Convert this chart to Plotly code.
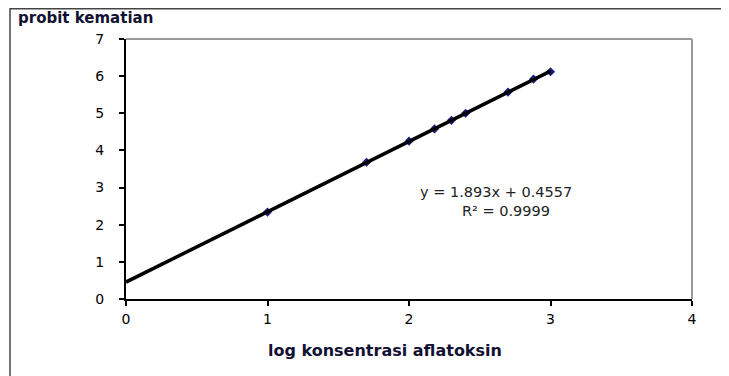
import plotly.graph_objects as go

# data
log_konsentrasi = [1.0, 1.70, 2.0, 2.18, 2.30, 2.40, 2.70, 2.88, 3.0]
probit = [2.34, 3.68, 4.25, 4.58, 4.81, 5.00, 5.57, 5.92, 6.12]
slope = 1.893
intercept = 0.4557
trend_x = [0.0, 3.0]
x_ticks = [0, 1, 2, 3, 4]
y_ticks = [0, 1, 2, 3, 4, 5, 6, 7]

# the page body has an 8px margin; figure sized so it fills the window
OFF = 8
W, H = 729 - OFF, 376 - OFF
L, T = 126 - OFF, 39 - OFF
R = W - (692 - OFF)
B = H - (299 - OFF)
pw, ph = W - L - R, H - T - B

def px_x(p):  # page pixel -> paper
    return (p - OFF - L) / pw

def px_y(p):
    return (H - B - (p - OFF)) / ph

FAM = "DejaVu Sans, Liberation Sans, Arial, sans-serif"
font = dict(family=FAM, size=14, color="black")

fig = go.Figure()
fig.add_trace(go.Scatter(
    x=log_konsentrasi, y=probit, mode="markers",
    marker=dict(symbol="diamond", size=7, color="#1a1a80"),
    showlegend=False, cliponaxis=False))
fig.add_trace(go.Scatter(
    x=trend_x, y=[slope * v + intercept for v in trend_x], mode="lines",
    line=dict(color="black", width=3.5), showlegend=False, cliponaxis=False))

fig.update_layout(
    width=W, height=H,
    margin=dict(l=L, r=R, t=T, b=B),
    paper_bgcolor="white", plot_bgcolor="white",
    font=font,
    xaxis=dict(range=[0, 4], tickvals=x_ticks, showgrid=False, zeroline=False,
               showline=True, linecolor="black", linewidth=2,
               ticks="outside", ticklen=5, tickwidth=2, tickcolor="black",
               tickfont=font, ticklabelstandoff=1),
    yaxis=dict(range=[0, 7], tickvals=y_ticks, showgrid=False, zeroline=False,
               showline=True, linecolor="black", linewidth=2,
               ticks="outside", ticklen=5, tickwidth=2, tickcolor="black",
               tickfont=font, ticklabelstandoff=12),
    shapes=[
        dict(type="line", xref="paper", yref="paper", x0=0, x1=1, y0=1, y1=1,
             line=dict(color="#9a9a9a", width=2)),
        dict(type="line", xref="paper", yref="paper", x0=1, x1=1, y0=0, y1=1,
             line=dict(color="#9a9a9a", width=2)),
        dict(type="line", xref="paper", yref="paper", x0=px_x(10), x1=px_x(760),
             y0=px_y(8.8), y1=px_y(8.8), line=dict(color="#444444", width=1.5)),
        dict(type="line", xref="paper", yref="paper", x0=px_x(10), x1=px_x(10),
             y0=px_y(8), y1=px_y(400), line=dict(color="#444444", width=1.5)),
    ],
    annotations=[
        dict(text="<b>probit kematian</b>", xref="paper", yref="paper",
             x=px_x(17), y=px_y(8.5), xanchor="left", yanchor="top",
             showarrow=False, borderpad=0,
             font=dict(family=FAM, size=15, color="#111133")),
        dict(text="<b>log konsentrasi aflatoksin</b>", xref="paper", yref="paper",
             x=px_x(385), y=px_y(350), xanchor="center", yanchor="middle",
             showarrow=False, font=dict(family=FAM, size=16, color="#111133")),
        dict(text="y = 1.893x + 0.4557", xref="paper", yref="paper",
             x=px_x(418), y=px_y(192), xanchor="left", yanchor="middle",
             showarrow=False, font=dict(family=FAM, size=14.5, color="#222222")),
        dict(text="R² = 0.9999", xref="paper", yref="paper",
             x=px_x(460), y=px_y(211), xanchor="left", yanchor="middle",
             showarrow=False, font=dict(family=FAM, size=14.5, color="#222222")),
    ],
)

fig.write_html("out.html")
